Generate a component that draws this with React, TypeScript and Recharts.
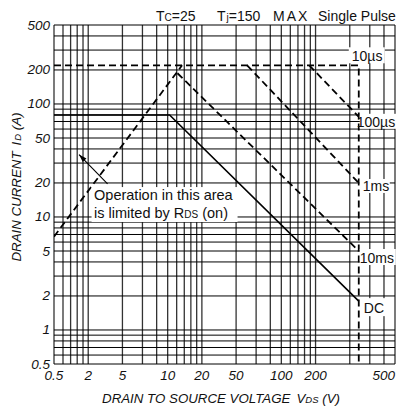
import React from 'react';
import { LineChart, Line, XAxis, YAxis, CartesianGrid, ReferenceDot, ReferenceLine } from 'recharts';

// ---- axis ticks (positions on the log scale, and the printed labels) ----
const xTickValues = [0.5, 1, 2, 5, 10, 20, 50, 100, 500];
const xTickLabels = ['0.5', '2', '5', '10', '20', '50', '100', '200', '500'];
const yTickValues = [0.5, 1, 2, 5, 10, 20, 50, 100, 200, 500];
const yTickLabels = ['0.5', '1', '2', '5', '10', '20', '50', '100', '200', '500'];
const gridValues = [0.5, 0.6, 0.7, 0.8, 0.9, 1, 2, 3, 4, 5, 6, 7, 8, 9, 10, 20, 30, 40, 50, 60, 70, 80, 90, 100, 200, 300, 400, 500];

// ---- SOA boundaries (V = drain-source voltage, I = drain current) ----
const pulse10us = [{ v: 0.5, i: 220 }, { v: 240, i: 220 }, { v: 240, i: 0.5 }];
const rdsLimit = [{ v: 0.5, i: 6.7 }, { v: 6.7, i: 220 }];
const pulse100us = [{ v: 88, i: 220 }, { v: 240, i: 77 }];
const pulse1ms = [{ v: 25, i: 220 }, { v: 240, i: 20 }];
const pulse10ms = [{ v: 6.1, i: 187 }, { v: 240, i: 5 }];
const dcLine = [{ v: 0.5, i: 80 }, { v: 5.2, i: 80 }, { v: 240, i: 1.8 }];
const arrowPts = [{ v: 1.48, i: 19.6 }, { v: 0.83, i: 35.7 }];
const noteAnchor = { v: 1.07, i: 18.4 };

const seriesNames = ['10µs', '100µs', '1ms', '10ms', 'DC'];
const seriesAnchors = [pulse10us[1], pulse100us[1], pulse1ms[1], pulse10ms[1], dcLine[2]];
// tag layout (px offsets from anchor): box [dx, dy, w, h], text [dx, dy]
const tagLayout = [
  { box: [-10, -18, 36, 16], text: [-7, -4.5] },
  { box: [1, -3, 37, 15], text: [-2, 10] },
  { box: [1, -4, 30, 14], text: [4, 8] },
  { box: [1, -2, 36, 16], text: [1, 12] },
  { box: [2, -3, 29, 18], text: [5, 12] },
];

const FONT = '"Liberation Sans", Arial, Helvetica, sans-serif';
const INK = '#111';

const XTick = (props: any) => {
  const { x, y, payload } = props;
  const idx = xTickValues.indexOf(payload.value);
  const label = idx >= 0 ? xTickLabels[idx] : '';
  const last = payload.value === 500;
  return (
    <text x={x} y={y + 16} textAnchor={last ? 'end' : 'middle'} fontFamily={FONT} fontStyle="italic" fontSize={13.5} fill={INK}>
      {label}
    </text>
  );
};

const YTick = (props: any) => {
  const { x, y, payload } = props;
  const idx = yTickValues.indexOf(payload.value);
  const label = idx >= 0 ? yTickLabels[idx] : '';
  return (
    <text x={x} y={y + 4.5} textAnchor="end" fontFamily={FONT} fontStyle="italic" fontSize={13.5} fill={INK}>
      {label}
    </text>
  );
};

const makeTag = (k: number) => (p: any) => {
  const { cx, cy } = p;
  const L = tagLayout[k];
  return (
    <g>
      <rect x={cx + L.box[0]} y={cy + L.box[1]} width={L.box[2]} height={L.box[3]} fill="#fff" />
      <text x={cx + L.text[0]} y={cy + L.text[1]} fontFamily={FONT} fontSize={14} fill={INK}>
        {seriesNames[k]}
      </text>
    </g>
  );
};

const NoteShape = (p: any) => {
  const { cx, cy } = p;
  return (
    <g>
      <rect x={cx} y={cy} width={146} height={35} fill="#fff" />
      <text x={cx + 2.5} y={cy + 12.5} fontFamily={FONT} fontSize={14.5} fill={INK}>
        Operation in this area
      </text>
      <text x={cx + 2.5} y={cy + 31} fontFamily={FONT} fontSize={14.5} fill={INK}>
        is limited by R<tspan fontSize={10}>DS</tspan> (on)
      </text>
    </g>
  );
};

const ArrowShape = (p: any) => {
  const { x1, y1, x2, y2 } = p;
  const ang = (Math.atan2(y2 - y1, x2 - x1) * 180) / Math.PI;
  return (
    <g>
      <line x1={x1} y1={y1} x2={x2} y2={y2} stroke="#000" strokeWidth={1.1} />
      <path d={`M ${x2} ${y2} L ${x2 - 8} ${y2 - 2.6} L ${x2 - 8} ${y2 + 2.6} Z`} fill="#000" transform={`rotate(${ang} ${x2} ${y2})`} />
    </g>
  );
};

const dashed = { stroke: '#000', strokeWidth: 1.8, strokeDasharray: '7 4', dot: false, isAnimationActive: false, type: 'linear' as const, dataKey: 'i' };

export default function App() {
  return (
    <div style={{ position: 'relative', width: 403, height: 408, background: '#fff' }}>
      <style>{`html,body{margin:0;padding:0;overflow:hidden;background:#fff}`}</style>
      <LineChart width={403} height={408} margin={{ top: 25, right: 8, bottom: 0, left: 0 }}>
        <CartesianGrid horizontal={false} verticalValues={gridValues} stroke="#333" strokeWidth={1.3} fill="none" />
        <CartesianGrid vertical={false} horizontalValues={gridValues} stroke="#000" strokeWidth={1} fill="none" />
        <XAxis
          dataKey="v"
          type="number"
          scale="log"
          domain={[0.5, 500]}
          ticks={xTickValues}
          interval={0}
          allowDataOverflow
          axisLine={false}
          tickLine={false}
          tickSize={0}
          tickMargin={0}
          height={44}
          tick={<XTick />}
        />
        <YAxis
          type="number"
          scale="log"
          domain={[0.5, 500]}
          ticks={yTickValues}
          interval={0}
          allowDataOverflow
          axisLine={false}
          tickLine={false}
          tickSize={0}
          tickMargin={4}
          width={54}
          tick={<YTick />}
        />
        <Line data={pulse10us} {...dashed} />
        <Line data={rdsLimit} {...dashed} />
        <Line data={pulse100us} {...dashed} />
        <Line data={pulse1ms} {...dashed} />
        <Line data={pulse10ms} {...dashed} />
        <Line data={dcLine} dataKey="i" stroke="#000" strokeWidth={1.6} dot={false} isAnimationActive={false} type="linear" />
        <ReferenceLine
          segment={[{ x: arrowPts[0].v, y: arrowPts[0].i }, { x: arrowPts[1].v, y: arrowPts[1].i }]}
          shape={ArrowShape}
          ifOverflow="visible"
        />
        <ReferenceDot x={noteAnchor.v} y={noteAnchor.i} r={0} shape={NoteShape} ifOverflow="visible" />
        {seriesAnchors.map((a, k) => (
          <ReferenceDot key={k} x={a.v} y={a.i} r={0} shape={makeTag(k)} ifOverflow="visible" />
        ))}
      </LineChart>
      <svg width={403} height={408} style={{ position: 'absolute', left: 0, top: 0, pointerEvents: 'none' }}>
        <g fontFamily={FONT} fontSize={14} fill={INK}>
          <text x={156} y={20.5}>
            T<tspan fontSize={10}>C</tspan>=25
          </text>
          <text x={217} y={20.5}>
            T<tspan fontSize={10} dx={1}>j</tspan>=150
          </text>
          <text x={273} y={20.5} letterSpacing={2}>
            MAX
          </text>
          <text x={318} y={20.5}>Single Pulse</text>
        </g>
        <text
          x={21}
          y={187}
          transform="rotate(-90 21 187)"
          textAnchor="middle"
          fontFamily={FONT}
          fontStyle="italic"
          fontSize={13.3}
          fill={INK}
        >
          DRAIN CURRENT<tspan dx={6}>I</tspan>
          <tspan fontSize={9.5} dx={1}>D</tspan> (A)
        </text>
        <text x={221} y={403} textAnchor="middle" fontFamily={FONT} fontStyle="italic" fontSize={13.3} fill={INK}>
          DRAIN TO SOURCE VOLTAGE<tspan dx={6}>V</tspan>
          <tspan fontSize={9.5}>DS</tspan> (V)
        </text>
      </svg>
    </div>
  );
}
